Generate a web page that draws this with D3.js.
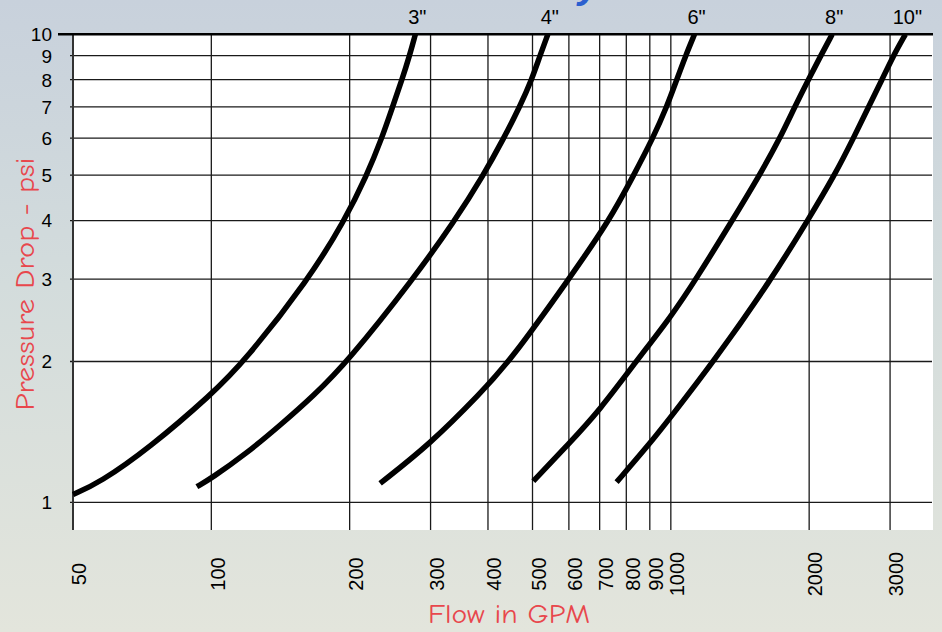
<!DOCTYPE html>
<meta charset="utf-8">
<head>
  <title>Pressure drop vs flow</title>
</head>

<style>
body {
  margin: 0;
  font-family: "Liberation Sans", Arial, sans-serif;
}
.grid line {
  stroke: #1a1a1a;
  stroke-width: 1.3px;
}
.curve {
  fill: none;
  stroke: #000;
  stroke-width: 5.5px;
}
.ttl {
  fill: #e8474c;
  font-family: "Comic Sans MS", "Comic Neue", "DejaVu Sans", sans-serif;
}
</style>

<body>
<svg id="chart" width="942" height="632"></svg>

<script src="https://cdnjs.cloudflare.com/ajax/libs/d3/7.8.5/d3.min.js"></script>
<script>
var width = 942,
    height = 632;

// tick values
var flowTicks = [50, 100, 200, 300, 400, 500, 600, 700, 800, 900, 1000, 2000, 3000];
var psiTicks = [1, 2, 3, 4, 5, 6, 7, 8, 9, 10];

// curves: pipe size, flow (GPM), pressure drop (psi)
var sizes = ['3"', '4"', '6"', '8"', '10"'];
var flow3 = [50, 57, 73.5, 100, 118, 163, 195, 218, 235, 248, 260, 270, 278];
var psi3  = [1.04, 1.10, 1.31, 1.70, 2.0, 3.0, 4.0, 5, 6, 7, 8, 9, 10];
var flow4 = [93, 100, 119, 141, 167, 198, 275, 339, 391, 433, 469, 498, 519, 540];
var psi4  = [1.08, 1.126, 1.27, 1.46, 1.69, 2.0, 3.0, 4.0, 5, 6, 7, 8, 9, 10];
var flow6 = [233, 300, 385, 446, 600, 735, 830, 914, 980, 1030, 1077, 1126];
var psi6  = [1.098, 1.335, 1.71, 2.0, 3.0, 4.0, 5, 6, 7, 8, 9, 10];
var flow8 = [502, 600, 700, 840, 1000, 1135, 1360, 1560, 1728, 1861, 1992, 2120, 2245];
var psi8  = [1.11, 1.335, 1.574, 2.0, 2.49, 3.0, 4.0, 5, 6, 7, 8, 9, 10];
var flow10 = [762, 900, 1000, 1240, 1657, 2000, 2272, 2497, 2694, 2881, 3049, 3240];
var psi10  = [1.105, 1.335, 1.523, 2.0, 3.0, 4.05, 5, 6, 7, 8, 9, 10];

var flows = [flow3, flow4, flow6, flow8, flow10];
var psis = [psi3, psi4, psi6, psi8, psi10];

var svg = d3.select("#chart");

// background
var defs = svg.append("defs");
var bg = defs.append("linearGradient")
    .attr("id", "bg")
    .attr("x1", 0).attr("y1", 0).attr("x2", 0).attr("y2", 1);
bg.append("stop").attr("offset", "0%").attr("stop-color", "#c8d1dc");
bg.append("stop").attr("offset", "45%").attr("stop-color", "#d3dcdc");
bg.append("stop").attr("offset", "100%").attr("stop-color", "#e3e5dc");
svg.append("rect")
    .attr("width", width)
    .attr("height", height)
    .attr("fill", "url(#bg)");

// bottom of the title, cut off at the top edge
svg.append("text")
    .attr("x", 578)
    .attr("y", -2)
    .attr("fill", "#2b5fcf")
    .style("font-size", "40px")
    .style("font-weight", "bold")
    .style("font-style", "italic")
    .text("y");

var margin = {left: 73, right: 933, top: 34.3, bottom: 530};

var x = d3.scaleLog()
    .domain([50, 3720])
    .range([margin.left, margin.right]);

var y = d3.scaleLog()
    .domain([0.873, 10])
    .range([margin.bottom, margin.top]);

// plot area
svg.append("rect")
    .attr("x", margin.left)
    .attr("y", margin.top)
    .attr("width", margin.right - margin.left)
    .attr("height", margin.bottom - margin.top)
    .attr("fill", "#fff");

var grid = svg.append("g").attr("class", "grid");

// horizontal lines
grid.selectAll(".h")
    .data(psiTicks.filter(function(d) { return d < 10; }))
  .enter().append("line")
    .attr("class", "h")
    .attr("x1", 70)
    .attr("x2", 932)
    .attr("y1", function(d) { return y(d); })
    .attr("y2", function(d) { return y(d); });

// vertical lines
grid.selectAll(".v")
    .data(flowTicks.slice(1))
  .enter().append("line")
    .attr("class", "v")
    .attr("x1", function(d) { return x(d); })
    .attr("x2", function(d) { return x(d); })
    .attr("y1", margin.top)
    .attr("y2", margin.bottom);

// left axis line
svg.append("line")
    .attr("x1", x(50)).attr("x2", x(50))
    .attr("y1", margin.top).attr("y2", margin.bottom)
    .attr("stroke", "#333")
    .attr("stroke-width", 2);

// top line (10 psi)
svg.append("line")
    .attr("x1", 58).attr("x2", margin.right)
    .attr("y1", y(10)).attr("y2", y(10))
    .attr("stroke", "#000")
    .attr("stroke-width", 2.6);

// y tick labels
svg.selectAll(".ylab")
    .data(psiTicks)
  .enter().append("text")
    .attr("class", "ylab")
    .attr("x", 52)
    .attr("y", function(d) { return y(d); })
    .attr("dy", "0.36em")
    .attr("text-anchor", "end")
    .style("font-size", "19px")
    .text(function(d) { return d; });

// x tick labels, rotated
svg.selectAll(".xlab")
    .data(flowTicks)
  .enter().append("text")
    .attr("class", "xlab")
    .attr("transform", function(d) { return "translate(" + (x(d) + 6) + ",574) rotate(-90)"; })
    .attr("dy", "0.36em")
    .attr("text-anchor", "middle")
    .style("font-size", "20px")
    .text(function(d) { return d; });

// curves
var line = d3.line()
    .x(function(d) { return x(d[0]); })
    .y(function(d) { return y(d[1]); })
    .curve(d3.curveBasis);

sizes.forEach(function(s, i) {
  var pts = flows[i].map(function(f, j) { return [f, psis[i][j]]; });
  svg.append("path")
      .datum(pts)
      .attr("class", "curve")
      .attr("d", line);

  var last = pts[pts.length - 1];
  svg.append("text")
      .attr("x", x(last[0]) + 2)
      .attr("y", 24)
      .attr("text-anchor", "middle")
      .style("font-size", "20px")
      .text(s);
});

// axis titles
svg.append("text")
    .attr("class", "ttl")
    .attr("x", 509)
    .attr("y", 623)
    .attr("text-anchor", "middle")
    .attr("textLength", 162)
    .attr("lengthAdjust", "spacingAndGlyphs")
    .style("font-size", "26px")
    .text("Flow in GPM");

svg.append("text")
    .attr("class", "ttl")
    .attr("transform", "translate(34,284) rotate(-90)")
    .attr("text-anchor", "middle")
    .attr("textLength", 253)
    .attr("lengthAdjust", "spacingAndGlyphs")
    .style("font-size", "27px")
    .text("Pressure Drop - psi");
</script>
</body>
</html>
